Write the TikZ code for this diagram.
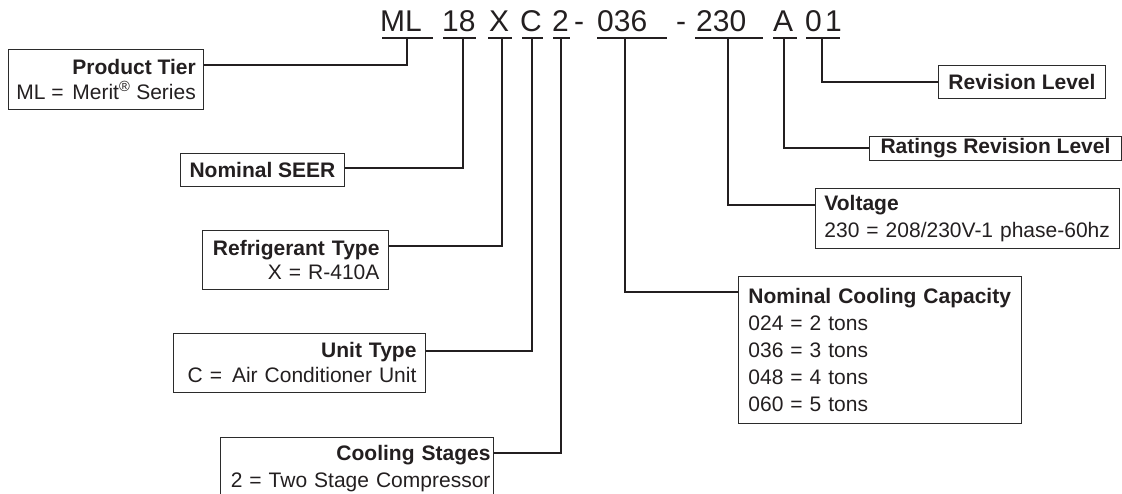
\documentclass[tikz,border=0pt]{standalone}
\usepackage{fontspec}
\setmainfont{Liberation Sans}
\usepackage{tikz}
\usetikzlibrary{positioning}
\definecolor{MNInk}{HTML}{231F20}
\definecolor{MNLine}{HTML}{2B2B2B}

\begin{document}
\begin{tikzpicture}[
      x=1pt,y=-1pt,
      codech/.style={anchor=base west,inner sep=0pt,text=MNInk,font=\fontsize{30}{36}\selectfont},
      uline/.style={line width=1.8pt,draw=MNInk},
      conn/.style={line width=1.9pt,draw=MNInk},
      infobox/.style={draw=MNLine,line width=0.9pt,text=MNInk,inner ysep=0pt,
        font=\fontsize{21}{26}\selectfont},
      rbox/.style={infobox,align=right},
      lbox/.style={infobox,align=left}
    ]
    \useasboundingbox (0,0) rectangle (1122,494);
    \clip (0,0) rectangle (1122,494);

    % model number
    \foreach \n/\x/\t in {ml/380/ML,n18/442/18,x/489/X,c/520/C,n2/552/2,da/574/-,
        n036/597/036,db/676/-,n230/696/230,a/773/A,n0/805/0,n1/825/1}
      \node[codech] (c\n) at (\x,32) {\t};
    \foreach \a/\b in {382/433,443/476,488/512,522/543,553/570,597/667,695/763,773/797,806/840}
      \draw[uline] (\a,38) -- (\b,38);
    \foreach \n/\x in {ml/407,n18/463,x/502,c/532,n2/561,n036/625,n230/728,a/784,n01/822}
      \coordinate (t\n) at (\x,38);

    % left boxes
    \node[rbox,anchor=north east,inner xsep=7pt,minimum width=195pt,minimum height=60pt,
      font=\fontsize{21}{25}\selectfont] (tier) at (204,49)
      {\textbf{Product Tier}\\ML =\hspace{3pt} Merit\textsuperscript{®} Series};
    \node[infobox,anchor=north west,minimum width=164pt,minimum height=33pt] (seer) at (180,153)
      {\textbf{Nominal SEER}};
    \node[rbox,anchor=north west,inner xsep=9pt,text width=168pt,minimum height=59pt,
      font=\fontsize{21}{24}\selectfont] (refr) at (202,230)
      {\textbf{Refrigerant Type}\\X = R-410A};
    \node[rbox,anchor=north west,inner xsep=9pt,text width=234pt,minimum height=59pt,
      font=\fontsize{21}{25}\selectfont] (unit) at (173,333)
      {\textbf{Unit Type}\\C =\hspace{3pt} Air Conditioner Unit};
    \node[rbox,anchor=north west,inner xsep=3pt,text width=267pt,minimum height=62pt,
      font=\fontsize{21}{27}\selectfont] (stage) at (220,437)
      {\textbf{Cooling Stages}\\2 = Two Stage Compressor};

    % right boxes
    \node[infobox,anchor=north west,minimum width=167pt,minimum height=33pt] (rev) at (938,65)
      {\textbf{Revision Level}};
    \node[infobox,anchor=north west,minimum width=252pt,minimum height=24pt] (rate) at (869,136)
      {\textbf{Ratings Revision Level}};
    \node[lbox,anchor=north west,inner xsep=9pt,text width=286pt,minimum height=60pt,
      font=\fontsize{21}{27}\selectfont] (volt) at (815,188)
      {\textbf{Voltage}\\230 = 208/230V-1 phase-60hz};
    \node[lbox,anchor=north west,inner xsep=10pt,text width=263pt,minimum height=147pt,
      font=\fontsize{21}{27}\selectfont] (cap) at (738,276)
      {\textbf{Nominal Cooling Capacity}\\024 = 2 tons\\036 = 3 tons\\048 = 4 tons\\060 = 5 tons};

    % connectors
    \draw[conn] ([yshift=-16pt]tier.north east) -| (tml);
    \draw[conn] ([yshift=2pt]seer.east) -| (tn18);
    \draw[conn] ([yshift=-16pt]refr.north east) -| (tx);
    \draw[conn] ([yshift=-18pt]unit.north east) -| (tc);
    \draw[conn] ([yshift=-16pt]stage.north east) -| (tn2);
    \draw[conn] ([yshift=-17pt]volt.north west) -| (tn230);
    \draw[conn] ([yshift=-16pt]cap.north west) -| (tn036);
    \draw[conn] (rev.west) -| (tn01);
    \draw[conn] (rate.west) -| (ta);
  \end{tikzpicture}
\end{document}
